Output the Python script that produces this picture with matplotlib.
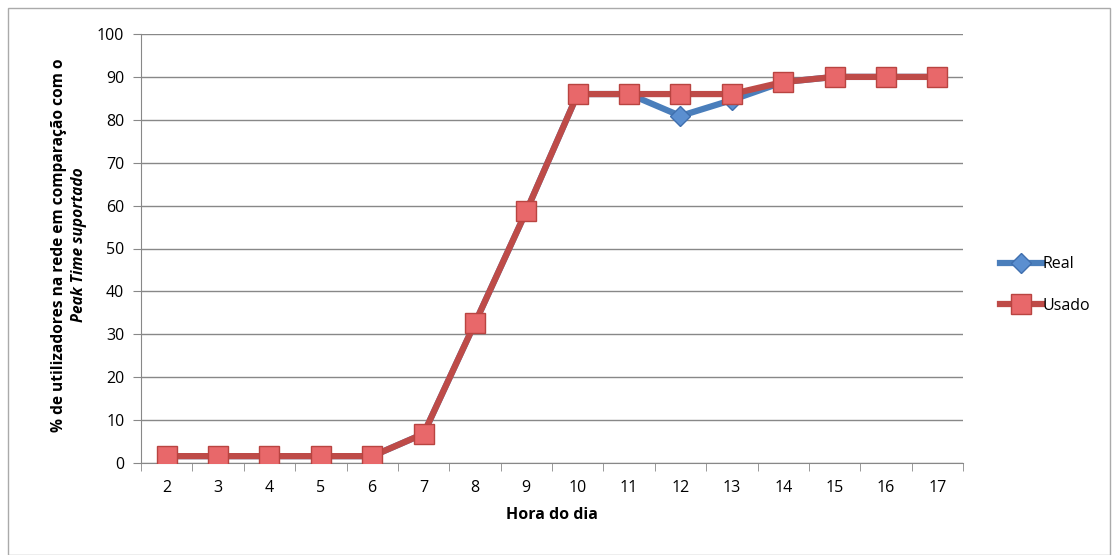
import numpy as np
import matplotlib.pyplot as plt
from matplotlib.patches import Rectangle

horas = [2, 3, 4, 5, 6, 7, 8, 9, 10, 11, 12, 13, 14, 15, 16, 17]
real = [1.6, 1.6, 1.6, 1.6, 1.6, 6.8, 32.6, 58.7, 86, 86, 80.9, 84.6, 88.8, 90, 90, 90]
usado = [1.6, 1.6, 1.6, 1.6, 1.6, 6.8, 32.6, 58.7, 86, 86, 86, 86, 88.8, 90, 90, 90]

plt.rcParams['font.family'] = ['Open Sans', 'DejaVu Sans']

fig = plt.figure(figsize=(11.18, 5.55), dpi=100)
ax = fig.add_axes([141 / 1118, 1 - 463 / 555, 822 / 1118, 429 / 555])

x = np.arange(len(horas))
ax.plot(x, real, color='#4a7ebb', lw=4.5, marker='D', ms=10,
        mfc='#5b8fd0', mec='#3f6fae', mew=1, label='Real', zorder=3)
ax.plot(x, usado, color='#be4b48', lw=4.5, marker='s', ms=15,
        mfc='#e8686a', mec='#b94441', mew=1, label='Usado', zorder=4)

ax.set_xlim(-0.5, len(horas) - 0.5)
ax.set_ylim(0, 100)
ax.set_yticks(range(0, 101, 10))
ax.set_xticks(x)
ax.set_xticklabels(horas)
ax.set_xticks(np.arange(-0.5, len(horas), 1), minor=True)
ax.tick_params(axis='x', which='major', length=0, labelsize=11.5, pad=12)
ax.tick_params(axis='x', which='minor', length=6, color='#888888', direction='out')
ax.tick_params(axis='y', length=6, color='#888888', labelsize=11.5, pad=6)

ax.grid(axis='y', color='#888888', lw=1)
ax.set_axisbelow(True)
for s in ['top', 'right']:
    ax.spines[s].set_visible(False)
for s in ['left', 'bottom']:
    ax.spines[s].set_color('#888888')

ax.set_xlabel('Hora do dia', fontsize=11.5, fontweight='bold', labelpad=8)

fig.text(59 / 1118, 1 - 245 / 555, '% de utilizadores na rede em comparação com o',
         rotation=90, ha='center', va='center', fontsize=11.2, fontweight='bold')
fig.text(79 / 1118, 1 - 245 / 555, 'Peak Time suportado',
         rotation=90, ha='center', va='center', fontsize=11.2, fontweight='bold',
         style='italic')

ax.legend(loc='center left', bbox_to_anchor=(1.028, 0.415), frameon=False,
          fontsize=11.5, handlelength=2.6, handletextpad=0.05, labelspacing=1.6)

fig.patches.append(Rectangle((8 / 1118, 0), 1102 / 1118, 1 - 8 / 555,
                             transform=fig.transFigure, fill=False,
                             edgecolor='#aaaaaa', lw=1))

fig.savefig('out.png', dpi=100)
